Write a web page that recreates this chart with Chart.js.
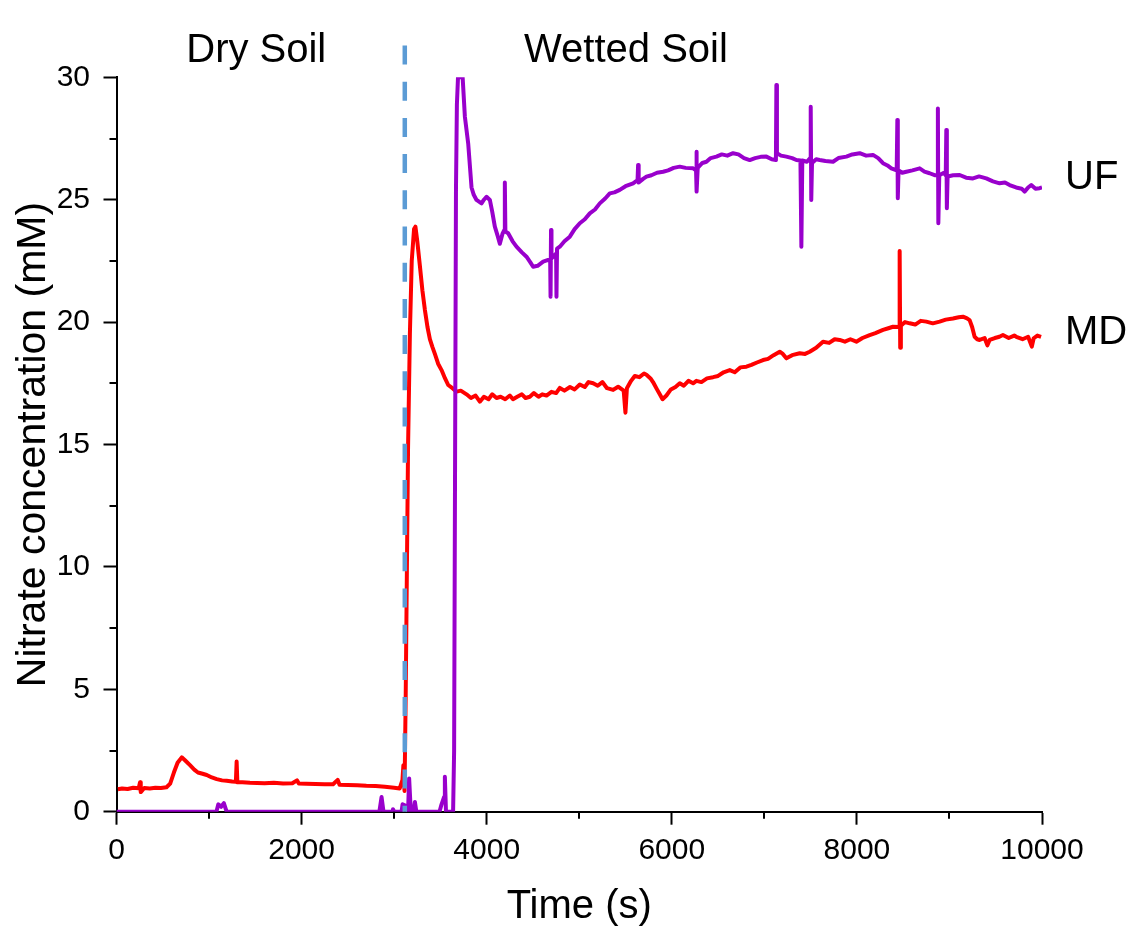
<!DOCTYPE html>
<html>
<head>
<meta charset="utf-8">
<script src="https://cdn.jsdelivr.net/npm/chart.js@4/dist/chart.umd.min.js"></script>
<style>
  html, body { margin: 0; padding: 0; background: #ffffff; }
  #wrap { width: 1134px; height: 947px; }
</style>
</head>
<body>
<div id="wrap"><canvas id="c" width="1134" height="947"></canvas></div>
<script>
// ---- data (time in s, nitrate concentration in mM) ----
const mdSeries = [
  [15,0.92],[60,0.95],[120,0.93],[180,0.98],[240,0.96],[254,1.2],[262,0.8],[300,0.97],[360,0.95],[420,0.98],
  [480,0.97],[540,1.0],[580,1.15],[620,1.6],[660,2.0],[705,2.22],[740,2.1],[794,1.9],[840,1.72],[880,1.6],
  [930,1.55],[975,1.5],[1030,1.4],[1083,1.33],[1140,1.28],[1190,1.26],[1250,1.23],[1290,1.22],[1298,2.05],[1306,1.2],
  [1360,1.2],[1442,1.18],[1520,1.17],[1600,1.16],[1700,1.18],[1800,1.15],[1900,1.16],[1950,1.28],[1970,1.15],[2050,1.14],
  [2150,1.13],[2250,1.12],[2340,1.12],[2390,1.3],[2410,1.1],[2500,1.09],[2600,1.08],[2700,1.06],[2800,1.05],[2900,1.02],
  [3000,0.98],[3060,0.95],[3090,1.3],[3100,1.9],[3112,0.85],[3125,4.8],[3150,14.8],[3170,19.5],[3190,22.5],[3215,23.8],
  [3230,23.9],[3250,23.3],[3278,22.3],[3305,21.3],[3332,20.5],[3360,19.8],[3386,19.3],[3412,19.0],[3440,18.7],[3475,18.3],
  [3512,18.04],[3550,17.7],[3584,17.43],[3630,17.3],[3674,17.16],[3720,17.2],[3782,17.05],[3830,16.9],[3880,17.0],[3926,16.75],
  [3970,16.95],[4020,16.85],[4060,17.05],[4106,16.9],[4150,16.95],[4200,16.85],[4250,17.0],[4284,16.85],[4330,16.95],[4380,17.05],
  [4420,16.9],[4466,16.95],[4510,17.1],[4560,16.95],[4600,17.05],[4646,17.0],[4700,17.15],[4750,17.1],[4790,17.31],[4840,17.2],
  [4900,17.35],[4950,17.25],[5006,17.45],[5060,17.35],[5100,17.55],[5150,17.5],[5200,17.4],[5250,17.55],[5300,17.3],[5366,17.23],
  [5420,17.36],[5480,17.2],[5499,16.3],[5515,17.3],[5560,17.6],[5600,17.8],[5650,17.75],[5700,17.9],[5726,17.85],[5770,17.7],
  [5797,17.55],[5840,17.25],[5870,17.05],[5900,16.85],[5942,17.0],[5990,17.25],[6040,17.35],[6086,17.5],[6130,17.4],[6180,17.6],
  [6230,17.5],[6266,17.6],[6320,17.55],[6380,17.7],[6446,17.75],[6500,17.8],[6560,17.95],[6626,18.04],[6680,17.95],[6740,18.15],
  [6806,18.18],[6860,18.25],[6920,18.35],[6986,18.45],[7040,18.5],[7100,18.65],[7166,18.79],[7200,18.7],[7238,18.52],[7300,18.65],
  [7382,18.73],[7440,18.7],[7490,18.79],[7560,18.95],[7634,19.2],[7700,19.15],[7760,19.3],[7814,19.27],[7870,19.2],[7930,19.3],
  [7994,19.2],[8060,19.35],[8138,19.47],[8200,19.55],[8282,19.68],[8340,19.75],[8390,19.81],[8455,19.8],[8462,22.9],[8468,18.95],
  [8475,19.85],[8520,20.0],[8570,19.95],[8630,19.9],[8690,20.05],[8750,20.02],[8820,19.95],[8894,20.02],[8960,20.1],[9038,20.15],
  [9100,20.2],[9146,20.22],[9190,20.15],[9218,20.08],[9245,19.8],[9272,19.4],[9300,19.3],[9326,19.27],[9380,19.35],[9410,19.05],
  [9434,19.27],[9490,19.35],[9540,19.4],[9578,19.47],[9640,19.35],[9700,19.45],[9722,19.4],[9790,19.3],[9850,19.4],[9890,19.0],
  [9910,19.34],[9950,19.45],[9990,19.4]
];

const ufSeries = [
  [0,0],[1080,0],[1100,0.3],[1130,0.2],[1160,0.35],[1190,0],[2840,0],[2864,0.6],[2885,0],[2980,0],
  [2987,0.1],[3000,0],[3080,0],[3091,0.3],[3120,0.25],[3150,0],[3162,1.36],[3180,0],[3210,0],[3224,0.4],
  [3240,0],[3490,0],[3512,0.3],[3540,0.6],[3548,1.43],[3560,0],[3637,0],[3648,2.5],[3668,25.4],[3678,28.9],
  [3690,30],[3740,30],[3764,28.4],[3800,27.3],[3836,25.5],[3860,25.2],[3890,24.99],[3944,24.85],[3970,25.0],[3998,25.12],
  [4034,24.99],[4060,24.5],[4088,23.9],[4120,23.5],[4142,23.2],[4170,23.6],[4190,23.76],[4196,25.7],[4202,23.7],[4232,23.63],
  [4280,23.3],[4322,23.08],[4380,22.85],[4430,22.67],[4470,22.45],[4502,22.26],[4550,22.3],[4610,22.47],[4664,22.54],[4686,22.5],
  [4690,21.04],[4695,23.76],[4700,22.6],[4750,22.8],[4754,21.04],[4760,23.0],[4790,23.08],[4840,23.3],[4898,23.49],[4950,23.8],
  [5006,24.04],[5060,24.2],[5114,24.44],[5170,24.6],[5222,24.85],[5280,25.05],[5330,25.26],[5380,25.3],[5438,25.4],[5500,25.55],
  [5582,25.67],[5630,25.8],[5636,26.42],[5642,25.7],[5690,25.85],[5726,25.94],[5780,26.0],[5840,26.1],[5906,26.14],[5960,26.2],
  [6020,26.3],[6086,26.35],[6150,26.3],[6230,26.28],[6262,26.2],[6266,26.96],[6270,25.33],[6280,26.3],[6330,26.5],[6374,26.55],
  [6420,26.7],[6482,26.76],[6540,26.85],[6600,26.8],[6662,26.9],[6720,26.85],[6780,26.7],[6842,26.62],[6900,26.7],[6960,26.75],
  [7022,26.76],[7080,26.65],[7125,26.62],[7130,29.69],[7136,26.9],[7180,26.8],[7238,26.76],[7300,26.7],[7346,26.62],[7390,26.6],
  [7400,23.08],[7410,26.6],[7460,26.55],[7495,26.7],[7501,28.8],[7507,24.99],[7515,26.5],[7560,26.65],[7598,26.62],[7660,26.58],
  [7742,26.55],[7800,26.7],[7886,26.76],[7950,26.85],[8030,26.9],[8100,26.8],[8174,26.83],[8230,26.7],[8282,26.49],[8330,26.4],
  [8372,26.28],[8430,26.2],[8437,28.26],[8442,25.06],[8450,26.2],[8490,26.1],[8534,26.14],[8600,26.2],[8678,26.28],[8730,26.15],
  [8786,26.08],[8840,26.0],[8870,26.0],[8875,28.73],[8880,24.04],[8890,26.0],[8940,26.1],[8960,26.0],[8966,27.85],[8972,24.65],
  [8980,25.95],[9040,26.0],[9110,26.01],[9180,25.9],[9254,25.87],[9320,25.95],[9398,25.87],[9470,25.75],[9542,25.67],[9600,25.7],
  [9650,25.6],[9720,25.5],[9780,25.45],[9812,25.33],[9850,25.5],[9884,25.6],[9930,25.45],[9974,25.47],[10000,25.5]
];

const xTickValues = [0, 2000, 4000, 6000, 8000, 10000];
const xMinorTicks = [1000, 3000, 5000, 7000, 9000];
const yTickValues = [0, 5, 10, 15, 20, 25, 30];
const yMinorTicks = [2.5, 7.5, 12.5, 17.5, 22.5, 27.5];
const wettingTime = 3115;          // dashed divider (s)
const dividerTop = 31.3;           // dashed divider upper end (mM)
const phaseLabels = [ { text: 'Dry Soil', t: 1510 }, { text: 'Wetted Soil', t: 5505 } ];
const seriesLabels = [ { text: 'UF', y: 25.9 }, { text: 'MD', y: 19.55 } ];

const FONT = "'Liberation Sans', Arial, Helvetica, sans-serif";
const RED = '#ff0000';
const PURPLE = '#9900cc';
const BLUE = '#5b9bd5';

const toPts = s => s.map(p => ({ x: p[0], y: p[1] }));

const overlay = {
  id: 'overlay',
  afterDatasetsDraw(chart) {
    const { ctx, scales: { x, y } } = chart;
    ctx.save();
    ctx.strokeStyle = BLUE;
    ctx.lineWidth = 4.5;
    ctx.setLineDash([19, 17.2]);
    const px = x.getPixelForValue(wettingTime);
    ctx.beginPath();
    ctx.moveTo(px, y.getPixelForValue(dividerTop));
    ctx.lineTo(px, y.getPixelForValue(0));
    ctx.stroke();
    ctx.restore();
  },
  afterDraw(chart) {
    const { ctx, scales: { x, y }, chartArea } = chart;
    ctx.save();
    ctx.strokeStyle = '#000';
    ctx.lineWidth = 2;
    ctx.beginPath();
    xMinorTicks.forEach(v => {
      const px = Math.round(x.getPixelForValue(v));
      ctx.moveTo(px, chartArea.bottom);
      ctx.lineTo(px, chartArea.bottom + 7);
    });
    yMinorTicks.forEach(v => {
      const py = Math.round(y.getPixelForValue(v));
      ctx.moveTo(chartArea.left, py);
      ctx.lineTo(chartArea.left - 7, py);
    });
    ctx.stroke();
    ctx.fillStyle = '#000';
    ctx.font = '40px ' + FONT;
    ctx.textAlign = 'center';
    ctx.textBaseline = 'alphabetic';
    phaseLabels.forEach(l => {
      ctx.fillText(l.text, x.getPixelForValue(l.t), 62);
    });
    ctx.textAlign = 'left';
    ctx.textBaseline = 'middle';
    seriesLabels.forEach(l => {
      ctx.fillText(l.text, chartArea.right + 23, y.getPixelForValue(l.y));
    });
    ctx.restore();
  }
};

const axisCommon = {
  type: 'linear',
  z: 1,
  border: { display: true, color: '#000', width: 2 },
  grid: { display: true, drawOnChartArea: false, drawTicks: true, tickLength: 13, tickWidth: 2, tickColor: '#000', color: '#000' },
};

new Chart(document.getElementById('c'), {
  type: 'line',
  data: {
    datasets: [
      { label: 'UF', data: toPts(ufSeries), borderColor: PURPLE, borderWidth: 4, pointRadius: 0, tension: 0, fill: false, borderJoinStyle: 'round' },
      { label: 'MD', data: toPts(mdSeries), borderColor: RED, borderWidth: 4, pointRadius: 0, tension: 0, fill: false, borderJoinStyle: 'round' }
    ]
  },
  options: {
    responsive: false,
    animation: false,
    devicePixelRatio: 1,
    layout: { padding: { left: 0, top: 77.3, right: 92, bottom: 0 } },
    plugins: { legend: { display: false }, tooltip: { enabled: false } },
    scales: {
      x: Object.assign({}, axisCommon, {
        min: 0, max: 10000,
        afterBuildTicks: s => { s.ticks = xTickValues.map(v => ({ value: v })); },
        afterFit: s => { s.height = 947 - 811.7; },
        ticks: { color: '#000', font: { family: FONT, size: 30 }, padding: 8, maxRotation: 0, autoSkip: false, callback: v => String(v) },
        title: { display: true, text: 'Time (s)', color: '#000', font: { family: FONT, size: 40 }, padding: { top: 0, bottom: 16 } }
      }),
      y: Object.assign({}, axisCommon, {
        min: 0, max: 30,
        afterBuildTicks: s => { s.ticks = yTickValues.map(v => ({ value: v })); },
        afterFit: s => { s.width = 116.5; },
        ticks: { color: '#000', font: { family: FONT, size: 30 }, padding: 13.5, callback: v => String(v) },
        title: { display: true, text: 'Nitrate concentration (mM)', color: '#000', font: { family: FONT, size: 41 }, padding: { top: 9, bottom: 0 } }
      })
    }
  },
  plugins: [overlay]
});
</script>
</body>
</html>
